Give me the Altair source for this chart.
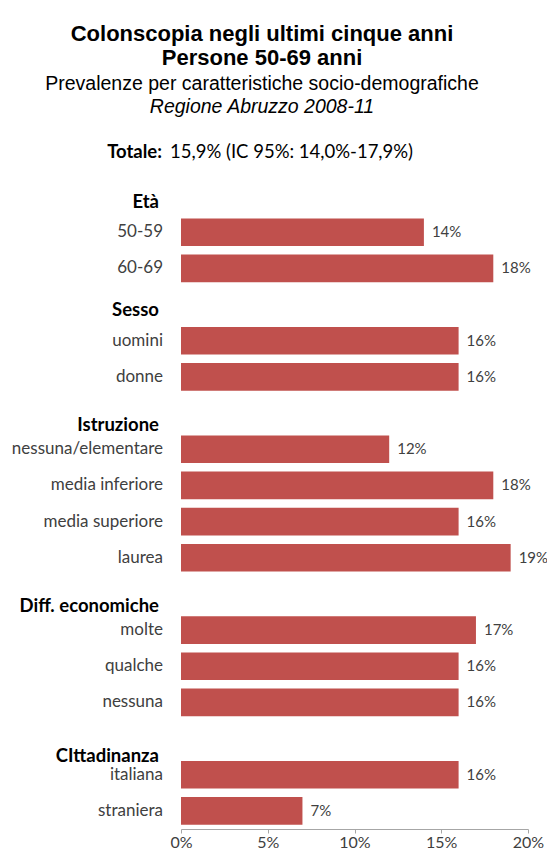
import altair as alt
import pandas as pd

# ---- data ----
groups = ["Età", "Sesso", "Istruzione", "Diff. economiche", "CIttadinanza"]
categories = [
    ["50-59", "60-69"],
    ["uomini", "donne"],
    ["nessuna/elementare", "media inferiore", "media superiore", "laurea"],
    ["molte", "qualche", "nessuna"],
    ["italiana", "straniera"],
]
values = [
    [14, 18],
    [16, 16],
    [12, 18, 16, 19],
    [17, 16, 16],
    [16, 7],
]
x_ticks = [0, 5, 10, 15, 20]
title_lines = ["Colonscopia negli ultimi cinque anni", "Persone 50-69 anni"]
subtitle_lines = ["Prevalenze per caratteristiche socio-demografiche", "Regione Abruzzo 2008-11"]
totale_bold = "Totale:"
totale_text = "15,9% (IC 95%: 14,0%-17,9%)"

# ---- tables ----
domain = []
rows = []
heads = []
for g, cats, vals in zip(groups, categories, values):
    hk = g + "|"
    domain.append(hk)
    heads.append({"key": hk, "group": g})
    for c, v in zip(cats, vals):
        k = g + "|" + c
        domain.append(k)
        rows.append({"key": k, "cat": c, "value": v, "label": f"{v}%"})
df = pd.DataFrame(rows)
hdf = pd.DataFrame(heads)

FONT = "Lato"
BAR = "#C0504D"
TXT = "#404040"

yscale = alt.Scale(domain=domain, paddingInner=0.234, paddingOuter=0.117)
xscale = alt.Scale(domain=[0, 20], nice=False)

base = alt.Chart(df)

bars = base.mark_bar(color=BAR).encode(
    x=alt.X("value:Q", scale=xscale,
            axis=alt.Axis(values=x_ticks, labelExpr="datum.value + '%'", grid=False,
                          domainColor="#A6A6A6", tickColor="#A6A6A6", tickSize=4,
                          labelFont=FONT, labelFontSize=16, labelColor=TXT,
                          labelFlush=False, labelPadding=1, title=None)),
    y=alt.Y("key:N", scale=yscale, axis=None),
)

vals_txt = base.mark_text(align="left", baseline="middle", dx=8, font=FONT,
                          fontSize=15, color=TXT).encode(
    x=alt.X("value:Q", scale=xscale),
    y=alt.Y("key:N", scale=yscale),
    text="label:N",
)

cat_txt = base.mark_text(align="right", baseline="middle", font=FONT,
                         fontSize=17, color=TXT).encode(
    x=alt.value(-18),
    y=alt.Y("key:N", scale=yscale),
    text="cat:N",
)

head_dy = {"Età": 6, "Sesso": 5, "Istruzione": 12, "Diff. economiche": 12, "CIttadinanza": 17}
head_layers = []
for g in groups:
    head_layers.append(
        alt.Chart(hdf[hdf.group == g]).mark_text(
            align="right", baseline="middle", font=FONT, fontSize=18.5,
            fontWeight="bold", color="#000000", dy=head_dy[g]).encode(
            x=alt.value(-22),
            y=alt.Y("key:N", scale=yscale),
            text="group:N",
        )
    )

tdf = pd.DataFrame({"t": [0]})


def label(text, x, y, **kw):
    return alt.Chart(tdf).mark_text(text=text, baseline="alphabetic", **kw).encode(
        x=alt.value(x), y=alt.value(y))


titles = [
    label(title_lines[0], 81, -137, font="Liberation Sans", fontSize=22, fontWeight="bold", color="#000", align="center"),
    label(title_lines[1], 81, -113, font="Liberation Sans", fontSize=22, fontWeight="bold", color="#000", align="center"),
    label(subtitle_lines[0], 81, -88, font="Liberation Sans", fontSize=19.5, color="#000", align="center"),
    label(subtitle_lines[1], 81, -65, font="Liberation Sans", fontSize=19.5, fontStyle="italic", color="#000", align="center"),
    label(totale_bold, -19, -20, font=FONT, fontSize=18.5, fontWeight="bold", color="#000", align="right"),
    label(totale_text, -11, -20, font=FONT, fontSize=18.5, color="#000", align="left"),
]

chart = alt.layer(bars, vals_txt, cat_txt, *head_layers, *titles).properties(
    width=347, height=651,
    autosize=alt.AutoSizeParams(type="none"),
    padding={"left": 173, "top": 170, "right": 19, "bottom": 21},
    background="white",
).configure_view(stroke=None)

chart.save("out.html", embed_options={"renderer": "svg", "actions": False})
